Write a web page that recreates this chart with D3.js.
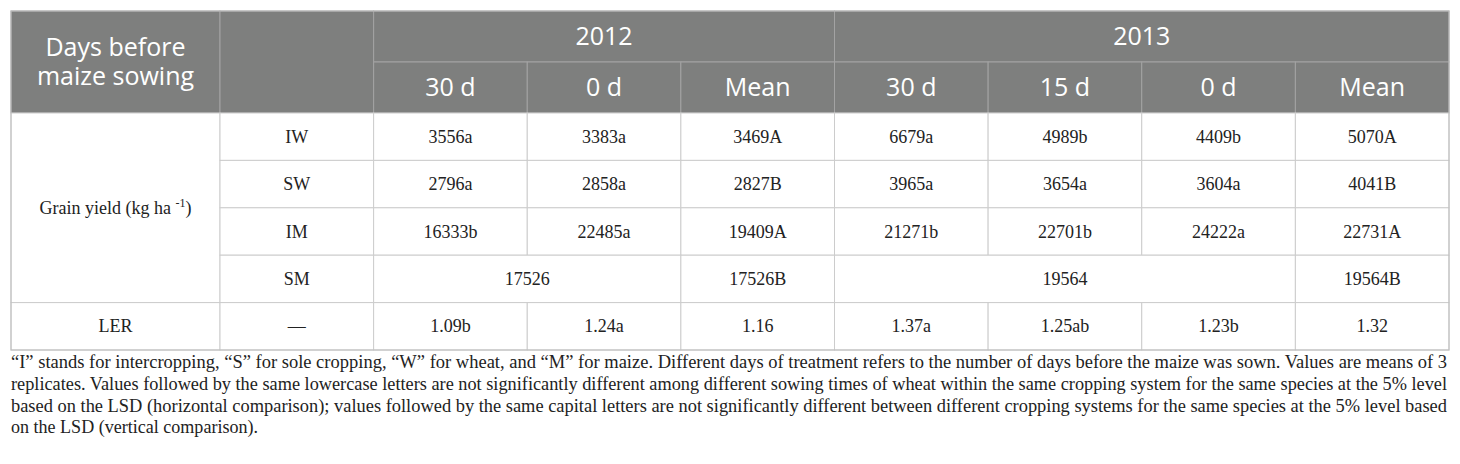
<!DOCTYPE html>
<html>
<head>
<meta charset="utf-8">
<script src="https://cdn.jsdelivr.net/npm/d3@7"></script>
<style>
  body { margin: 0; background: #fff; }
  svg { display: block; }
</style>
</head>
<body>
<div id="chart"></div>
<script>
// table contents
var years = ["2012", "2013"],
    days2012 = ["30 d", "0 d", "Mean"],
    days2013 = ["30 d", "15 d", "0 d", "Mean"],
    rowLabels = ["IW", "SW", "IM", "SM"],
    iw = ["3556a", "3383a", "3469A", "6679a", "4989b", "4409b", "5070A"],
    sw = ["2796a", "2858a", "2827B", "3965a", "3654a", "3604a", "4041B"],
    im = ["16333b", "22485a", "19409A", "21271b", "22701b", "24222a", "22731A"],
    sm2012 = ["17526", "17526B"],
    sm2013 = ["19564", "19564B"],
    ler = ["1.09b", "1.24a", "1.16", "1.37a", "1.25ab", "1.23b", "1.32"];

var notes = [
  "\u201cI\u201d stands for intercropping, \u201cS\u201d for sole cropping, \u201cW\u201d for wheat, and \u201cM\u201d for maize. Different days of treatment refers to the number of days before the maize was sown. Values are means of 3",
  "replicates. Values followed by the same lowercase letters are not significantly different among different sowing times of wheat within the same cropping system for the same species at the 5% level",
  "based on the LSD (horizontal comparison); values followed by the same capital letters are not significantly different between different cropping systems for the same species at the 5% level based",
  "on the LSD (vertical comparison)."
];

var width = 1460, height = 464;
var left = 11, right = 1449, firstW = 209;

var svg = d3.select("#chart").append("svg")
    .attr("width", width)
    .attr("height", height);

// columns: 0 is the label column, 1..8 share the rest
var colBand = d3.scaleBand().domain(d3.range(1, 9)).range([left + firstW, right]);
function cx0(c) { return c === 0 ? left : colBand(c); }
function cx1(c) { return c === 0 ? left + firstW : colBand(c) + colBand.bandwidth(); }

var headY = d3.scaleBand().domain([0, 1]).range([11, 113]);
var bodyY = d3.scaleBand().domain(d3.range(5)).range([113, 350]);

// build header cells
var head = [
  {c0: 0, c1: 0, r0: 0, r1: 1, lines: ["Days before", "maize sowing"]},
  {c0: 1, c1: 1, r0: 0, r1: 1, lines: []},
  {c0: 2, c1: 4, r0: 0, r1: 0, lines: [years[0]]},
  {c0: 5, c1: 8, r0: 0, r1: 0, lines: [years[1]]}
];
days2012.forEach(function(d, i) { head.push({c0: 2 + i, c1: 2 + i, r0: 1, r1: 1, lines: [d]}); });
days2013.forEach(function(d, i) { head.push({c0: 5 + i, c1: 5 + i, r0: 1, r1: 1, lines: [d]}); });

// build body cells
var body = [{c0: 0, c1: 0, r0: 0, r1: 3, text: "grain"}];
rowLabels.forEach(function(d, i) { body.push({c0: 1, c1: 1, r0: i, r1: i, text: d}); });
[iw, sw, im].forEach(function(row, r) {
  row.forEach(function(v, i) { body.push({c0: 2 + i, c1: 2 + i, r0: r, r1: r, text: v}); });
});
body.push({c0: 2, c1: 3, r0: 3, r1: 3, text: sm2012[0]});
body.push({c0: 4, c1: 4, r0: 3, r1: 3, text: sm2012[1]});
body.push({c0: 5, c1: 7, r0: 3, r1: 3, text: sm2013[0]});
body.push({c0: 8, c1: 8, r0: 3, r1: 3, text: sm2013[1]});
body.push({c0: 0, c1: 0, r0: 4, r1: 4, text: "LER"});
body.push({c0: 1, c1: 1, r0: 4, r1: 4, text: "\u2014"});
ler.forEach(function(v, i) { body.push({c0: 2 + i, c1: 2 + i, r0: 4, r1: 4, text: v}); });

// header
var hg = svg.append("g");
hg.selectAll("rect").data(head).enter().append("rect")
    .attr("x", function(d) { return cx0(d.c0); })
    .attr("y", function(d) { return headY(d.r0); })
    .attr("width", function(d) { return cx1(d.c1) - cx0(d.c0); })
    .attr("height", function(d) { return headY(d.r1) + headY.bandwidth() - headY(d.r0); })
    .attr("fill", "#7e7f7e")
    .attr("stroke", "#a3a3a3")
    .attr("stroke-width", 1);

hg.selectAll("text").data(head).enter().append("text")
    .attr("x", function(d) { return (cx0(d.c0) + cx1(d.c1)) / 2; })
    .attr("y", function(d) { return (headY(d.r0) + headY(d.r1) + headY.bandwidth()) / 2; })
    .attr("text-anchor", "middle")
    .attr("font-family", "'Open Sans', sans-serif")
    .attr("font-size", 25)
    .attr("fill", "#fff")
    .each(function(d) {
      var t = d3.select(this), n = d.lines.length;
      d.lines.forEach(function(l, i) {
        t.append("tspan")
          .attr("x", t.attr("x"))
          .attr("y", +t.attr("y") + (i - (n - 1) / 2) * 29 + 8)
          .text(l);
      });
    });

// body
var bg = svg.append("g");
bg.selectAll("rect").data(body).enter().append("rect")
    .attr("x", function(d) { return cx0(d.c0); })
    .attr("y", function(d) { return bodyY(d.r0); })
    .attr("width", function(d) { return cx1(d.c1) - cx0(d.c0); })
    .attr("height", function(d) { return bodyY(d.r1) + bodyY.bandwidth() - bodyY(d.r0); })
    .attr("fill", "#fff")
    .attr("stroke", "#cccccc")
    .attr("stroke-width", 1);

bg.selectAll("text").data(body).enter().append("text")
    .attr("x", function(d) { return (cx0(d.c0) + cx1(d.c1)) / 2; })
    .attr("y", function(d) { return (bodyY(d.r0) + bodyY(d.r1) + bodyY.bandwidth()) / 2 + 6; })
    .attr("text-anchor", "middle")
    .attr("font-family", "'Liberation Serif', serif")
    .attr("font-size", 18)
    .attr("fill", "#222")
    .each(function(d) {
      var t = d3.select(this);
      if (d.text === "grain") {
        t.append("tspan").text("Grain yield (kg ha ");
        t.append("tspan").attr("dy", -7).attr("font-size", 12).text("-1");
        t.append("tspan").attr("dy", 7).text(")");
      } else {
        t.text(d.text);
      }
    });

// outer border
svg.append("rect")
    .attr("x", left).attr("y", 11)
    .attr("width", right - left).attr("height", 350 - 11)
    .attr("fill", "none")
    .attr("stroke", "#bdbdbd");

// footnote, justified except the last line
var noteY = d3.scaleLinear().domain([0, 1]).range([368, 389.8]);
svg.append("g").selectAll("text").data(notes).enter().append("text")
    .attr("x", left)
    .attr("y", function(d, i) { return noteY(i); })
    .attr("font-family", "'Liberation Serif', serif")
    .attr("font-size", 18)
    .attr("fill", "#222")
    .text(function(d) { return d; })
    .each(function(d, i) {
      var target = i < notes.length - 1 ? right - 2 - left : 247;
      d3.select(this).attr("textLength", target).attr("lengthAdjust", "spacingAndGlyphs");
    });
</script>
</body>
</html>
